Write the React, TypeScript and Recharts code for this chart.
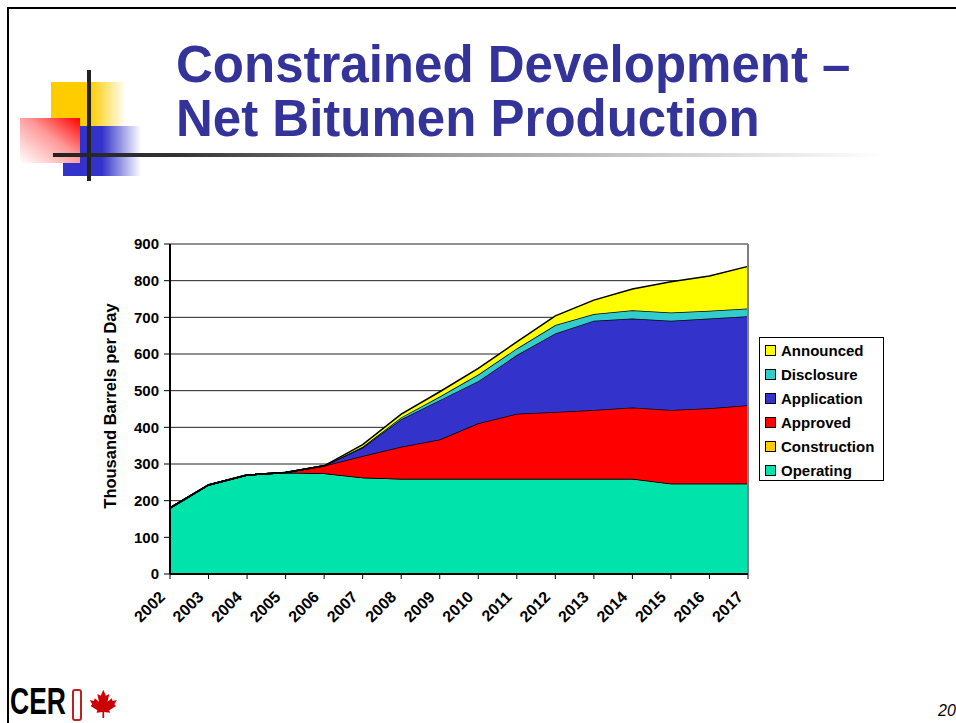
import React from "react"
import {
  Area,
  AreaChart,
  CartesianGrid,
  ReferenceLine,
  XAxis,
  YAxis,
} from "recharts"

const years = [
  "2002", "2003", "2004", "2005", "2006", "2007", "2008", "2009",
  "2010", "2011", "2012", "2013", "2014", "2015", "2016", "2017",
]
const operating = [180, 243, 270, 277, 275, 263, 260, 260, 260, 260, 260, 260, 260, 247, 247, 247]
const construction = [0, 0, 0, 0, 0, 0, 0, 0, 0, 0, 0, 0, 0, 0, 0, 0]
const approved = [0, 0, 0, 0, 20, 59, 87, 107, 151, 177, 182, 187, 194, 200, 205, 213]
const application = [0, 0, 0, 0, 0, 23, 75, 107, 115, 160, 214, 244, 243, 244, 245, 243]
const disclosure = [0, 0, 0, 0, 0, 2, 5, 10, 18, 18, 23, 18, 22, 22, 21, 21]
const announced = [0, 0, 0, 0, 0, 6, 9, 13, 17, 18, 25, 38, 58, 84, 95, 115]
const yTicks = [0, 100, 200, 300, 400, 500, 600, 700, 800, 900]

// bottom of the stack first
const series = [
  { key: "operating", name: "Operating", color: "#00E3AA", values: operating },
  { key: "construction", name: "Construction", color: "#FFCC00", values: construction },
  { key: "approved", name: "Approved", color: "#FF0000", values: approved },
  { key: "application", name: "Application", color: "#3333CC", values: application },
  { key: "disclosure", name: "Disclosure", color: "#33CCCC", values: disclosure },
  { key: "announced", name: "Announced", color: "#FFFF00", values: announced },
]

const chartData = years.map((year, i) => {
  const row: Record<string, string | number> = { year }
  series.forEach((s) => {
    row[s.key] = s.values[i]
  })
  return row
})

const FONT = '"Liberation Sans", Arial, Helvetica, sans-serif'

function YearTick({ x, y, payload }: { x?: number; y?: number; payload?: { value: string } }) {
  const tx = (x ?? 0) - 4
  const ty = (y ?? 0) + 17
  return (
    <text
      x={tx}
      y={ty}
      transform={`rotate(-45 ${tx} ${ty})`}
      textAnchor="end"
      fontFamily={FONT}
      fontWeight="bold"
      fontSize={16}
      fill="#000"
    >
      {payload?.value}
    </text>
  )
}

// CERI footer mark: condensed letters, red badge and maple leaf
function Logo() {
  return (
    <svg width="120" height="45" viewBox="0 0 120 45" style={{ position: "absolute", left: 9, top: 678 }}>
      <text
        x={1}
        y={36}
        textLength={56}
        lengthAdjust="spacingAndGlyphs"
        fontFamily={FONT}
        fontWeight="bold"
        fontSize={36}
        fill="#000"
      >
        CER
      </text>
      <rect x={64} y={12} width={8} height={30} rx={2} fill="none" stroke="#B22" strokeWidth={2} />
      <g transform="translate(79 11) scale(0.85)">
        <path
          d="M18 1 L15 8 L11 6 L13 15 L8 11 L7 14 L2 13 L5 18 L3 20 L11 25 L10 28 L17 27 L17 34 L19 34 L19 27 L26 28 L25 25 L33 20 L31 18 L34 13 L29 14 L28 11 L23 15 L25 6 L21 8 Z"
          fill="#CC0000"
        />
      </g>
    </svg>
  )
}

export default function App() {
  return (
    <div
      style={{
        position: "absolute",
        left: 0,
        top: 0,
        width: 956,
        height: 723,
        background: "#fff",
        overflow: "hidden",
        fontFamily: FONT,
      }}
    >
      {/* slide frame */}
      <div style={{ position: "absolute", left: 7, top: 7, width: 960, height: 2, background: "#000" }} />
      <div style={{ position: "absolute", left: 7, top: 7, width: 2, height: 720, background: "#000" }} />

      {/* corner decoration */}
      <div
        style={{
          position: "absolute",
          left: 51,
          top: 82,
          width: 75,
          height: 44,
          background: "linear-gradient(to right, #FFCC00 0%, #FFCC00 52%, #fff 100%)",
        }}
      />
      <div
        style={{
          position: "absolute",
          left: 63,
          top: 126,
          width: 78,
          height: 50,
          background: "linear-gradient(to right, #3333CC 0%, #3333CC 50%, #fff 100%)",
        }}
      />
      <div
        style={{
          position: "absolute",
          left: 20,
          top: 118,
          width: 60,
          height: 45,
          background: "linear-gradient(to bottom left, #FF0000 0%, #FF9999 45%, #fff 100%)",
        }}
      />
      <div style={{ position: "absolute", left: 87, top: 70, width: 4, height: 111, background: "#222" }} />
      <div
        style={{
          position: "absolute",
          left: 53,
          top: 153,
          width: 830,
          height: 4,
          background: "linear-gradient(to right, #222 0%, #333 15%, #999 45%, #fff 100%)",
        }}
      />

      {/* title */}
      <div
        style={{
          position: "absolute",
          left: 176,
          top: 38,
          fontSize: 51,
          lineHeight: "54px",
          fontWeight: "bold",
          color: "#333399",
          whiteSpace: "nowrap",
        }}
      >
        Constrained Development –
        <br />
        Net Bitumen Production
      </div>

      <div style={{ position: "absolute", left: 0, top: 0 }}>
        <AreaChart
          width={956}
          height={723}
          data={chartData}
          margin={{ top: 244, right: 208, left: 110, bottom: 89 }}
        >
          <CartesianGrid vertical={false} stroke="#222" strokeWidth={1} />
          <XAxis
            dataKey="year"
            height={60}
            interval={0}
            tick={<YearTick />}
            tickSize={5}
            axisLine={{ stroke: "#000", strokeWidth: 2 }}
            tickLine={{ stroke: "#000" }}
          />
          <YAxis
            width={60}
            domain={[0, 900]}
            ticks={yTicks}
            interval={0}
            tickSize={6}
            tickMargin={5}
            tick={{ fontFamily: FONT, fontWeight: "bold", fontSize: 15, fill: "#000" }}
            axisLine={{ stroke: "#000", strokeWidth: 2 }}
            tickLine={{ stroke: "#000" }}
          />
          {series.map((s) => (
            <Area
              key={s.key}
              type="linear"
              dataKey={s.key}
              name={s.name}
              stackId="1"
              stroke="#000"
              strokeWidth={1.5}
              fill={s.color}
              fillOpacity={1}
              dot={false}
              activeDot={false}
              isAnimationActive={false}
            />
          ))}
          <ReferenceLine x="2017" stroke="#808080" strokeWidth={2} />
        </AreaChart>
      </div>

      {/* axis title */}
      <div
        style={{
          position: "absolute",
          left: 110,
          top: 406,
          transform: "translate(-50%, -50%) rotate(-90deg)",
          fontSize: 16.5,
          fontWeight: "bold",
          whiteSpace: "nowrap",
          color: "#000",
        }}
      >
        Thousand Barrels per Day
      </div>

      {/* legend */}
      <div
        style={{
          position: "absolute",
          left: 759,
          top: 337,
          width: 125,
          height: 144,
          border: "1px solid #000",
          boxSizing: "border-box",
          paddingLeft: 5,
        }}
      >
        {[...series].reverse().map((s) => (
          <div
            key={s.key}
            style={{ display: "flex", alignItems: "center", height: 24, fontSize: 15, fontWeight: "bold" }}
          >
            <span
              style={{
                width: 9,
                height: 9,
                background: s.color,
                border: "1px solid #000",
                marginRight: 5,
                flexShrink: 0,
              }}
            />
            {s.name}
          </div>
        ))}
      </div>

      <Logo />
      <div style={{ position: "absolute", left: 938, top: 702, fontSize: 16, fontStyle: "italic" }}>20</div>
    </div>
  )
}
